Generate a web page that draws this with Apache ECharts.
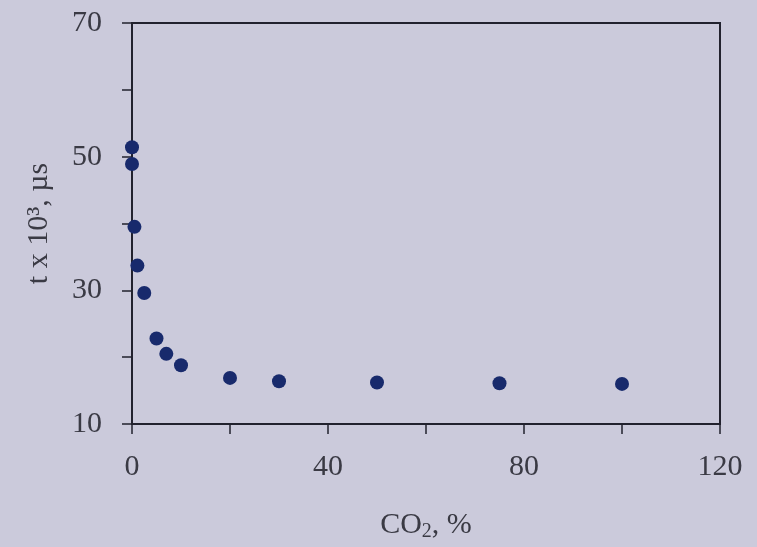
<!DOCTYPE html>
<html>
<head>
<meta charset="utf-8">
<script src="https://cdn.jsdelivr.net/npm/echarts@6/dist/echarts.min.js"></script>
<style>
  html, body { margin: 0; padding: 0; background: #cbcadb; }
  #chart { width: 757px; height: 547px; }
</style>
</head>
<body>
<div id="chart"></div>
<script>
// CO2 content (%) against time constant t (x 10^3 µs)
const co2Percent = [0, 0, 0.5, 1.1, 2.5, 5, 7, 10, 20, 30, 50, 75, 100];
const tValues = [51.4, 48.9, 39.5, 33.7, 29.6, 22.8, 20.5, 18.8, 16.9, 16.4, 16.2, 16.1, 16.0];
const xLabelTicks = [0, 40, 80, 120];
const yLabelTicks = [10, 30, 50, 70];

const points = co2Percent.map((x, i) => [x, tValues[i]]);
const serif = '"Liberation Serif", "DejaVu Serif", serif';
const axisColor = '#22222e';
const textColor = '#3a3a44';

const chart = echarts.init(document.getElementById('chart'));
chart.setOption({
  backgroundColor: '#cbcadb',
  animation: false,
  grid: {
    left: 132, right: 37, top: 23, bottom: 123,
    show: true, borderColor: axisColor, borderWidth: 2,
    backgroundColor: 'transparent'
  },
  xAxis: {
    type: 'value', min: 0, max: 120, interval: 20,
    splitLine: { show: false },
    axisLine: { lineStyle: { color: axisColor, width: 2 } },
    axisTick: { show: true, length: 10, lineStyle: { color: axisColor, width: 1.5 } },
    axisLabel: {
      margin: 28, color: textColor, fontFamily: serif, fontSize: 30,
      formatter: v => xLabelTicks.includes(v) ? String(v) : ''
    },
    name: '{a|CO}{b|2}{a|, %}',
    nameLocation: 'middle', nameGap: 84,
    nameTextStyle: {
      color: textColor, fontFamily: serif, fontSize: 30,
      rich: {
        a: { fontFamily: serif, fontSize: 30, color: textColor, lineHeight: 34 },
        b: { fontFamily: serif, fontSize: 20, color: textColor, verticalAlign: 'bottom', lineHeight: 22, padding: [12, 0, 0, 0] }
      }
    }
  },
  yAxis: {
    type: 'value', min: 10, max: 70, interval: 10,
    splitLine: { show: false },
    axisLine: { lineStyle: { color: axisColor, width: 2 } },
    axisTick: { show: true, length: 10, lineStyle: { color: axisColor, width: 1.5 } },
    axisLabel: {
      margin: 30, color: textColor, fontFamily: serif, fontSize: 30,
      formatter: v => yLabelTicks.includes(v) ? String(v) : ''
    },
    name: 't x 10\u00b3, \u00b5s',
    nameLocation: 'middle', nameGap: 78, nameRotate: 90,
    nameTextStyle: { color: textColor, fontFamily: serif, fontSize: 30 }
  },
  series: [{
    type: 'scatter',
    data: points,
    symbol: 'circle',
    symbolSize: 14,
    itemStyle: { color: '#182a6c', opacity: 1 },
    clip: false
  }]
});
</script>
</body>
</html>
